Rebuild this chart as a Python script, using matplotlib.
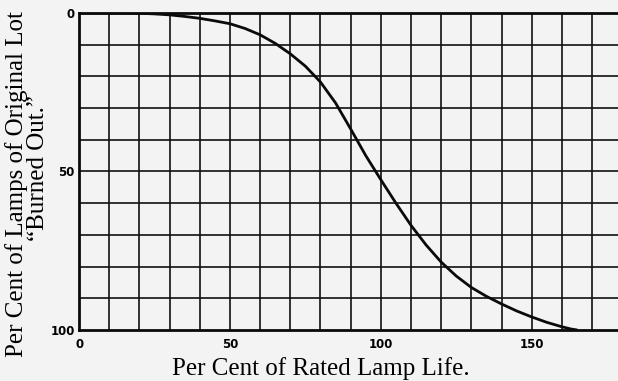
import numpy as np
import matplotlib
matplotlib.use("Agg")
import matplotlib.pyplot as plt

# per cent of rated life vs per cent of lamps burned out
life_pct = [0, 10, 20, 25, 30, 35, 40, 45, 50, 55, 60, 65, 70, 75, 80, 85, 90, 95,
            100, 105, 110, 115, 120, 125, 130, 135, 140, 145, 150, 155, 160, 163, 165]
burned_pct = [0, 0, 0.1, 0.3, 0.6, 1.1, 1.7, 2.5, 3.4, 4.9, 6.9, 9.6, 12.9, 16.8, 21.8,
              28.4, 36.6, 45.0, 52.6, 60.0, 67.0, 73.2, 78.6, 83.0, 86.6, 89.4, 91.8,
              94.0, 95.9, 97.6, 99.0, 99.7, 100]

x_ticks = [0, 50, 100, 150]
x_tick_labels = ["0", "50", "100", "150"]
y_ticks = [0, 50, 100]
y_tick_labels = ["0", "50", "100"]

plt.rcParams['font.family'] = ['Liberation Serif', 'DejaVu Serif']

fig = plt.figure(figsize=(6.18, 3.81), dpi=100)
fig.patch.set_facecolor('#f3f3f3')
ax = fig.add_axes([0.128, 0.134, 0.872, 0.832])
ax.set_facecolor('#f3f3f3')

# square grid every 10 units
for gx in range(10, 180, 10):
    ax.axvline(gx, color='#111111', lw=1.2, zorder=1)
for gy in range(10, 100, 10):
    ax.axhline(gy, color='#111111', lw=1.2, zorder=1)

ax.plot(life_pct, burned_pct, color='#0a0a0a', lw=2.0, zorder=3,
        solid_capstyle='round', solid_joinstyle='round')

ax.set_xlim(0, 178.6)
ax.set_ylim(100, 0)

for side in ['left', 'bottom', 'top']:
    ax.spines[side].set_linewidth(2.0)
    ax.spines[side].set_color('#0a0a0a')
ax.spines['right'].set_visible(False)

ax.set_xticks(x_ticks)
ax.set_yticks(y_ticks)
ax.set_xticklabels(x_tick_labels, fontsize=8.5, fontweight='bold', family='DejaVu Sans')
ax.set_yticklabels(y_tick_labels, fontsize=8.5, fontweight='bold', family='DejaVu Sans')
ax.tick_params(axis='x', length=0, pad=6)
ax.tick_params(axis='y', length=0, pad=3)

fig.text(0.519, 0.034, "Per Cent of Rated Lamp Life.", fontsize=18,
         ha='center', va='center')
fig.text(0.0275, 0.517, "Per Cent of Lamps of Original Lot", fontsize=18,
         rotation=90, ha='center', va='center')
fig.text(0.0615, 0.559, "\u201cBurned Out.\u201d", fontsize=18,
         rotation=90, ha='center', va='center')

fig.savefig("out.png", dpi=100, facecolor=fig.get_facecolor())
